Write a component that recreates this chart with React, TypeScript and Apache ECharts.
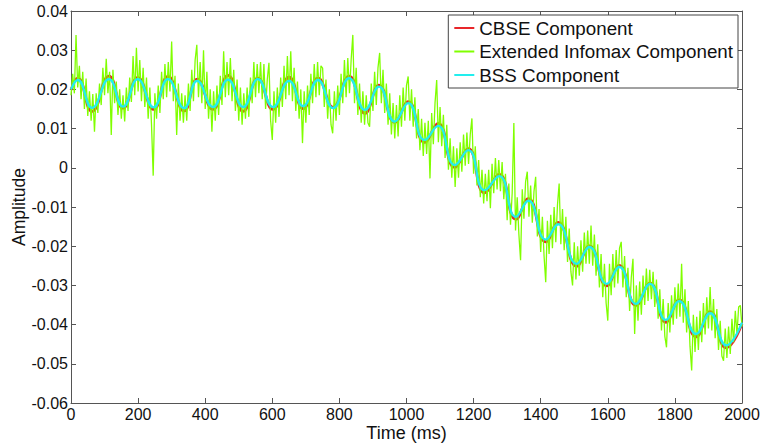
import React, { useEffect, useRef } from "react";
import * as echarts from "echarts";

// Times (ms) of the peaks/troughs of the smooth components
const componentTimes = [
  0, 20, 63, 113, 155, 199, 246, 289, 337, 376, 423, 468, 513, 557, 602, 650, 692, 736, 781, 829,
  876, 918, 965, 1005, 1054, 1094, 1144, 1184, 1233, 1276, 1326, 1363, 1415, 1452, 1507, 1545,
  1597, 1634, 1684, 1726, 1773, 1813, 1863, 1905, 1953, 2000,
];

const bssValues = [
  0.0200, 0.0224, 0.0153, 0.0226, 0.0156, 0.0226, 0.0154, 0.0226, 0.0152, 0.0222, 0.0155, 0.0225,
  0.0155, 0.0226, 0.0155, 0.0222, 0.0157, 0.0224, 0.0152, 0.0229, 0.0148, 0.0207, 0.0118, 0.0165,
  0.0071, 0.0107, 0.0007, 0.0045, -0.0057, -0.0021, -0.0125, -0.0084, -0.0183, -0.0144, -0.0245,
  -0.0202, -0.0296, -0.0253, -0.0347, -0.0296, -0.0388, -0.0340, -0.0424, -0.0371, -0.0453, -0.0395,
];

const cbseValues = [
  0.0198, 0.0229, 0.0144, 0.0234, 0.0152, 0.0230, 0.0149, 0.0233, 0.0145, 0.0226, 0.0149, 0.0236,
  0.0144, 0.0229, 0.0149, 0.0231, 0.0151, 0.0229, 0.0154, 0.0234, 0.0139, 0.0211, 0.0116, 0.0169,
  0.0065, 0.0113, 0.0001, 0.0049, -0.0064, -0.0017, -0.0131, -0.0079, -0.0189, -0.0139, -0.0251,
  -0.0199, -0.0301, -0.0249, -0.0351, -0.0294, -0.0394, -0.0337, -0.0431, -0.0367, -0.0459, -0.0398,
];

// Extended Infomax component, sampled every 5 ms from 0 to 2000 ms
const infomaxStepMs = 5;
const infomaxValues = [
  0.0185, 0.024, 0.019, 0.0339, 0.0205, 0.026, 0.0175, 0.0245, 0.015, 0.0228, 0.0132, 0.0195, 0.012, 0.0188, 0.0092, 0.019, 0.014, 0.0215, 0.016, 0.0255,
  0.0185, 0.0278, 0.019, 0.0245, 0.0084, 0.025, 0.0165, 0.022, 0.0135, 0.02, 0.0125, 0.0185, 0.0118, 0.0205, 0.0145, 0.023, 0.0168, 0.0285, 0.0185, 0.0306,
  0.0195, 0.0275, 0.017, 0.0255, 0.0155, 0.023, 0.0125, 0.0205, 0.011, -0.002, 0.019, 0.0125, 0.021, 0.014, 0.0245, 0.0175, 0.0265, 0.018, 0.027, 0.0195,
  0.0322, 0.017, 0.0235, 0.0084, 0.0215, 0.012, 0.019, 0.0115, 0.0185, 0.012, 0.0215, 0.0145, 0.025, 0.017, 0.0275, 0.0314, 0.018, 0.027, 0.0165, 0.03,
  0.015, 0.0245, 0.0125, 0.02, 0.0092, 0.0195, 0.012, 0.021, 0.0135, 0.0235, 0.016, 0.0297, 0.018, 0.027, 0.0185, 0.028, 0.017, 0.025, 0.0145, 0.0225,
  0.012, 0.0205, 0.011, 0.019, 0.0125, 0.0205, 0.013, 0.023, 0.0165, 0.027, 0.018, 0.0265, 0.019, 0.027, 0.0175, 0.0265, 0.015, 0.0225, 0.0268, 0.012,
  0.0071, 0.0195, 0.0115, 0.0205, 0.013, 0.023, 0.0155, 0.026, 0.0175, 0.0285, 0.0185, 0.0297, 0.017, 0.0255, 0.0145, 0.022, 0.0125, 0.02, 0.0063, 0.0195,
  0.0115, 0.021, 0.0135, 0.024, 0.0165, 0.0265, 0.018, 0.027, 0.0185, 0.026, 0.0254, 0.0155, 0.0225, 0.0125, 0.02, 0.011, 0.0088, 0.0195, 0.012, 0.021,
  0.0135, 0.024, 0.0165, 0.0275, 0.018, 0.028, 0.019, 0.0275, 0.0339, 0.0165, 0.0255, 0.0135, 0.0215, 0.0115, 0.0195, 0.011, 0.0185, 0.0115, 0.0105, 0.0215,
  0.0145, 0.0245, 0.016, 0.0255, 0.0293, 0.0165, 0.025, 0.014, 0.0215, 0.011, 0.019, 0.0085, 0.0165, 0.0075, 0.016, 0.008, 0.0185, 0.0105, 0.0205, 0.012,
  0.021, 0.0233, 0.012, 0.02, 0.0105, 0.018, 0.0075, 0.015, 0.0045, 0.0125, 0.003, 0.0115, 0.0035, 0.012, -0.0027, 0.014, 0.006, 0.0165, 0.0224, 0.0065,
  0.0155, 0.0055, 0.0135, 0.0025, 0.011, -0.0005, 0.0075, -0.0025, 0.0055, -0.0049, 0.005, -0.0025, 0.0065, -0.001, 0.0085, 0.0005, 0.009, 0.001, 0.0085, 0.0126,
  -0.0015, 0.0055, -0.0045, 0.002, -0.0075, -0.0005, -0.0091, -0.0015, -0.0085, -0.0005, -0.0103, 0.001, -0.0065, 0.0025, -0.0055, 0.002, -0.006, 0.0015, -0.008, -0.0015,
  -0.0134, -0.004, -0.0145, -0.0065, 0.0114, -0.016, -0.0075, -0.017, -0.0236, -0.0055, -0.013, -0.0035, -0.001, -0.0125, -0.0045, -0.014, -0.006, -0.0023, -0.0175, -0.0105,
  -0.0215, -0.0125, -0.0225, -0.0292, -0.0135, -0.022, -0.012, -0.0205, -0.01, -0.019, -0.0095, -0.004, -0.0195, -0.0105, -0.021, -0.0125, -0.024, -0.0155, -0.0265, -0.03,
  -0.019, -0.0285, -0.02, -0.0275, -0.0185, -0.0265, -0.0165, -0.0245, -0.016, -0.0245, -0.0147, -0.025, -0.017, -0.0275, -0.0195, -0.0305, -0.022, -0.033, -0.0245, -0.0345,
  -0.039, -0.0245, -0.0325, -0.022, -0.0305, -0.021, -0.0295, -0.0205, -0.0189, -0.0305, -0.0225, -0.033, -0.0255, -0.0365, -0.028, -0.0232, -0.0424, -0.03, -0.039, -0.029,
  -0.0375, -0.0275, -0.035, -0.0257, -0.034, -0.026, -0.0335, -0.0265, -0.0355, -0.0285, -0.0385, -0.031, -0.0415, -0.0335, -0.043, -0.0458, -0.0345, -0.042, -0.0325, -0.04,
  -0.0305, -0.0385, -0.0295, -0.038, -0.0245, -0.0395, -0.031, -0.042, -0.034, -0.0455, -0.0517, -0.0375, -0.047, -0.038, -0.0465, -0.0365, -0.0445, -0.0345, -0.0425, -0.033,
  -0.041, -0.0304, -0.0415, -0.0335, -0.0435, -0.036, -0.0465, -0.039, -0.048, -0.0492, -0.041, -0.0485, -0.0405, -0.0475, -0.0385, -0.0445, -0.0365, -0.0425, -0.0355, -0.0351,
  -0.0405,
];

const seriesNames = ["CBSE Component", "Extended Infomax Component", "BSS Component"];
const xTickStep = 200;
const yTickStep = 0.01;

const FONT = "Liberation Sans, Arial, sans-serif";
const AXIS_COLOR = "#555555";

export default function App() {
  const ref = useRef<HTMLDivElement>(null);

  useEffect(() => {
    if (!ref.current) return;
    const chart = echarts.init(ref.current, undefined, { renderer: "svg" });

    const cbseData = componentTimes.map((t, i) => [t, cbseValues[i]]);
    const bssData = componentTimes.map((t, i) => [t, bssValues[i]]);
    const infomaxData = infomaxValues.map((v, i) => [i * infomaxStepMs, v]);

    const baseX = {
      type: "value" as const,
      min: 0,
      max: 2000,
      interval: xTickStep,
      splitLine: { show: false },
      axisLine: { show: true, onZero: false, lineStyle: { color: AXIS_COLOR, width: 1 } },
      axisTick: { show: true, inside: true, length: 5, lineStyle: { color: AXIS_COLOR } },
    };
    const baseY = {
      type: "value" as const,
      min: -0.06,
      max: 0.04,
      interval: yTickStep,
      splitLine: { show: false },
      axisLine: { show: true, onZero: false, lineStyle: { color: AXIS_COLOR, width: 1 } },
      axisTick: { show: true, inside: true, length: 5, lineStyle: { color: AXIS_COLOR } },
    };

    chart.setOption({
      animation: false,
      backgroundColor: "#ffffff",
      textStyle: { fontFamily: FONT },
      grid: {
        left: 71,
        right: 20,
        top: 11,
        bottom: 42,
        containLabel: false,
        outerBoundsMode: "none",
      },
      xAxis: [
        {
          ...baseX,
          position: "bottom",
          name: "Time (ms)",
          nameLocation: "middle",
          nameGap: 21,
          nameMoveOverlap: false,
          nameTextStyle: { fontSize: 18, color: "#111", fontFamily: FONT },
          axisLabel: {
            show: true,
            margin: 3,
            fontSize: 16,
            color: "#111",
            fontFamily: FONT,
            showMinLabel: true,
            showMaxLabel: true,
            formatter: (v: number) => String(v),
          },
        },
        { ...baseX, position: "top", axisLabel: { show: false } },
      ],
      yAxis: [
        {
          ...baseY,
          position: "left",
          name: "Amplitude",
          nameLocation: "middle",
          nameGap: 43,
          nameMoveOverlap: false,
          nameTextStyle: { fontSize: 17.5, color: "#111", fontFamily: FONT },
          axisLabel: {
            show: true,
            margin: 3,
            fontSize: 16,
            color: "#111",
            fontFamily: FONT,
            showMinLabel: true,
            showMaxLabel: true,
            formatter: (v: number) => String(Number(v.toFixed(2))),
          },
        },
        { ...baseY, position: "right", axisLabel: { show: false } },
      ],
      legend: {
        show: true,
        orient: "vertical",
        right: 24,
        top: 15,
        padding: [3, 5, 3, 6],
        itemGap: 3.5,
        itemWidth: 20,
        itemHeight: 2,
        icon: "rect",
        selectedMode: false,
        backgroundColor: "#ffffff",
        borderColor: "#444444",
        borderWidth: 1,
        borderRadius: 0,
        textStyle: { fontSize: 18.8, color: "#111", fontFamily: FONT, lineHeight: 20 },
        data: seriesNames,
      },
      series: [
        {
          name: seriesNames[0],
          type: "line",
          data: cbseData,
          smooth: 0.5,
          showSymbol: false,
          symbol: "none",
          silent: true,
          lineStyle: { color: "#e8262a", width: 2.8 },
          itemStyle: { color: "#e8262a" },
        },
        {
          name: seriesNames[1],
          type: "line",
          data: infomaxData,
          showSymbol: false,
          symbol: "none",
          silent: true,
          lineStyle: { color: "#80ff00", width: 1.3 },
          itemStyle: { color: "#80ff00" },
        },
        {
          name: seriesNames[2],
          type: "line",
          data: bssData,
          smooth: 0.5,
          showSymbol: false,
          symbol: "none",
          silent: true,
          lineStyle: { color: "#22eeee", width: 2.3 },
          itemStyle: { color: "#22eeee" },
        },
      ],
    });

    return () => chart.dispose();
  }, []);

  return (
    <div
      ref={ref}
      style={{ position: "absolute", left: 0, top: 0, width: 762, height: 445, background: "#fff" }}
    />
  );
}
